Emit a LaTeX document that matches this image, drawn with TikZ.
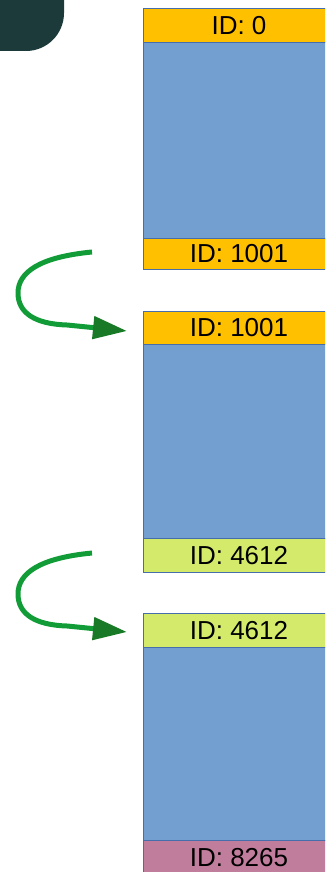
\documentclass[tikz,border=0pt]{standalone}
\usepackage{fontspec}
\setmainfont{Liberation Sans}
\usetikzlibrary{arrows.meta}
\definecolor{darkteal}{RGB}{29,58,58}
\definecolor{bodyblue}{RGB}{114,159,207}
\definecolor{edgeblue}{RGB}{70,110,170}
\definecolor{idyellow}{RGB}{255,192,0}
\definecolor{idgreen}{RGB}{212,234,107}
\definecolor{idpink}{RGB}{193,125,156}
\definecolor{arrowgreen}{RGB}{18,156,56}
\definecolor{headgreen}{RGB}{24,122,38}
\tikzset{
  part/.style={draw=edgeblue, line width=1pt, inner sep=0pt, minimum width=191pt, anchor=north west, font=\fontsize{26}{28}\selectfont},
  bodypart/.style={part, fill=bodyblue},
  hop/.style={draw=arrowgreen, line width=5pt, line join=round, -{Triangle[length=34pt,width=22pt,color=headgreen]}}
}
\begin{document}
\begin{tikzpicture}[x=1pt,y=-1pt]
\useasboundingbox (0,0) rectangle (325,872);
\clip (0,0) rectangle (325,872);
% top-left dark shape
\fill[darkteal, rounded corners=38pt] (-60,-60) rectangle (64,51);
% block 1
\node[bodypart, minimum height=196pt] (b1) at (143,42) {};
\node[part, fill=idyellow, minimum height=34pt] (h1) at (143,8) {ID: 0};
\node[part, fill=idyellow, minimum height=31pt] (f1) at (143,238) {ID: 1001};
% block 2
\node[bodypart, minimum height=194pt] (b2) at (143,344) {};
\node[part, fill=idyellow, minimum height=33pt] (h2) at (143,311) {ID: 1001};
\node[part, fill=idgreen, minimum height=34pt] (f2) at (143,538) {ID: 4612};
% block 3
\node[bodypart, minimum height=193pt] (b3) at (143,647) {};
\node[part, fill=idgreen, minimum height=34pt] (h3) at (143,613) {ID: 4612};
\node[part, fill=idpink, minimum height=34pt] (f3) at (143,840) {ID: 8265};
% arrows
\coordinate (s1) at (92,252);
\coordinate (t1) at (127,331);
\coordinate (s2) at (92,553);
\coordinate (t2) at (127,632);
\draw[hop] (s1) .. controls (40,257) and (18,272) .. (18,293)
  .. controls (18,313) and (35,324) .. (67,325) -- (t1);
\draw[hop] (s2) .. controls (40,558) and (18,573) .. (18,594)
  .. controls (18,614) and (35,625) .. (67,626) -- (t2);
\end{tikzpicture}
\end{document}
